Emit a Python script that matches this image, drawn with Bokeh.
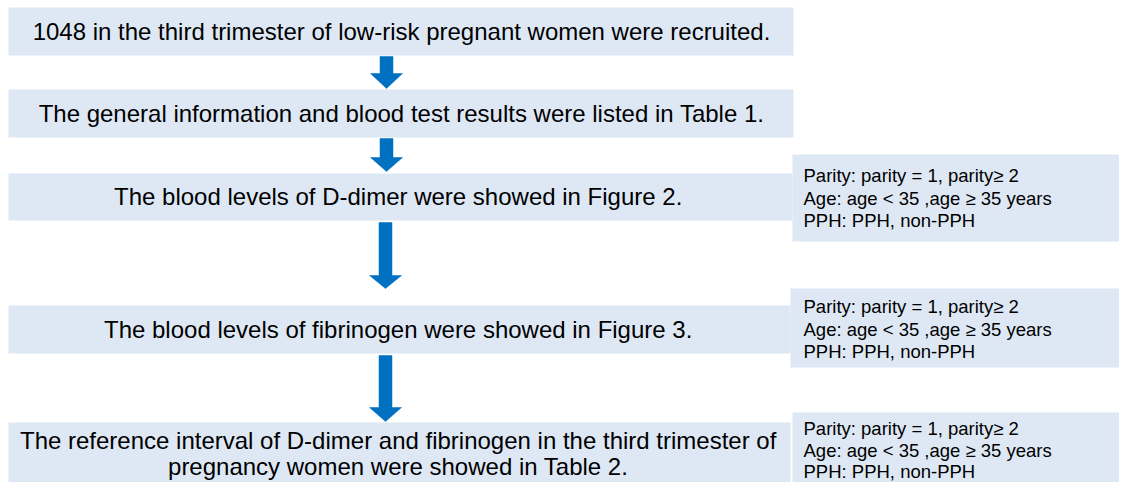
from bokeh.plotting import figure
from bokeh.models import Range1d
from bokeh.embed import file_html
from bokeh.resources import INLINE
from bokeh.core.properties import value

# ---- content ----
main_lines = [
    "1048 in the third trimester of low-risk pregnant women were recruited.",
    "The general information and blood test results were listed in Table 1.",
    "The blood levels of D-dimer were showed  in Figure 2.",
    "The blood levels of fibrinogen were showed  in Figure 3.",
    "The reference interval  of D-dimer and fibrinogen in the third trimester of",
    "pregnancy women were showed  in Table 2.",
]
side_lines = [
    "Parity: parity = 1, parity\u2265 2",
    "Age: age < 35 ,age \u2265 35 years",
    "PPH: PPH, non-PPH",
]

# ---- layout (pixel coordinates of the reference picture) ----
main_left = [8, 8, 8, 8, 8]
main_right = [793, 793, 792, 790, 790]
main_top = [7, 89, 173, 305, 422]
main_bottom = [55, 137, 220, 353, 487]
main_text_y = [31, 113, 196, 329, 440, 466]
main_text_x = 401

side_left = [792, 790, 792]
side_right = [1127, 1127, 1127]
side_top = [154, 288, 412]
side_bottom = [241, 367, 490]
side_first_y = [175, 306, 428]
side_step = [22.5, 22.5, 21.5]
side_text_x = 803

arrow_x = [386, 386, 385, 385]
arrow_top = [56, 138, 222, 355]
arrow_neck = [73, 157, 275, 407]
arrow_tip = [88, 171, 288, 421]
shaft_hw = 6.5
head_hw = 16

BOX_FILL = "#DEE8F5"
ARROW = "#0070C0"
FONT = "Liberation Sans"

W, H = 1119, 482
p = figure(width=W, height=H, output_backend="svg", toolbar_location=None,
           x_range=Range1d(0, W), y_range=Range1d(H, 0),
           min_border=0, outline_line_color=None, background_fill_color="white")
p.axis.visible = False
p.grid.visible = False

p.quad(left=main_left, right=main_right, top=main_top, bottom=main_bottom,
       fill_color=BOX_FILL, line_color=None)
p.quad(left=side_left, right=side_right, top=side_top, bottom=side_bottom,
       fill_color=BOX_FILL, line_color=None)

xs, ys = [], []
for cx, t, n, tip in zip(arrow_x, arrow_top, arrow_neck, arrow_tip):
    xs.append([cx - shaft_hw, cx + shaft_hw, cx + shaft_hw, cx + head_hw, cx,
               cx - head_hw, cx - shaft_hw])
    ys.append([t, t, n, n, tip, n, n])
p.patches(xs=xs, ys=ys, fill_color=ARROW, line_color=ARROW, line_width=0.5)

p.text(x=[main_text_x] * len(main_lines), y=main_text_y, text=main_lines,
       text_align="center", text_baseline="middle", text_font=value(FONT),
       text_font_size="24px", text_color="black")

sx, sy, st = [], [], []
for fy, step in zip(side_first_y, side_step):
    for i, line in enumerate(side_lines):
        sx.append(side_text_x)
        sy.append(fy + i * step)
        st.append(line)
p.text(x=sx, y=sy, text=st, text_align="left", text_baseline="middle",
       text_font=value(FONT), text_font_size="18.5px", text_color="black")

open("out.html", "w").write(file_html(p, INLINE))
